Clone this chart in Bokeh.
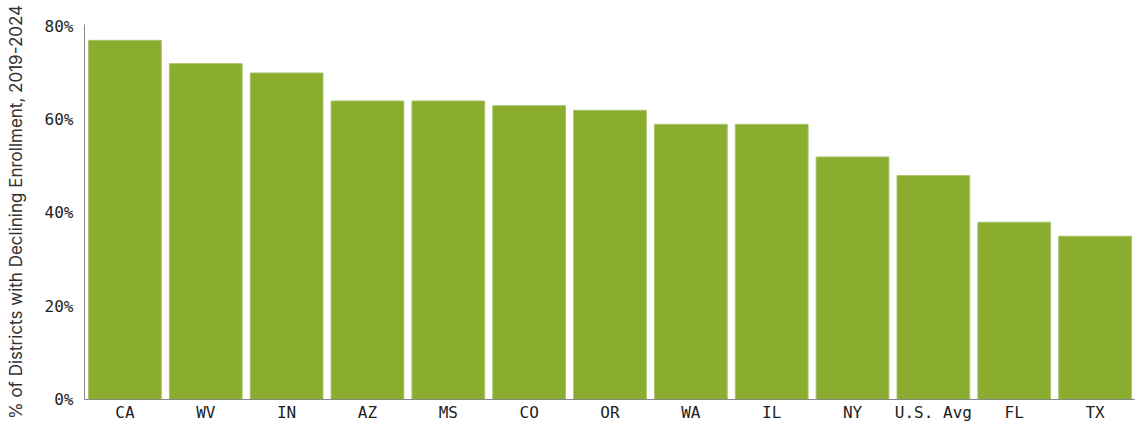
from bokeh.plotting import figure
from bokeh.models import Range1d, PrintfTickFormatter, ColumnDataSource
from bokeh.embed import file_html
from bokeh.resources import INLINE

states = ["CA", "WV", "IN", "AZ", "MS", "CO", "OR", "WA", "IL", "NY", "U.S. Avg", "FL", "TX"]
pct_declining = [77, 72, 70, 64, 64, 63, 62, 59, 59, 52, 48, 38, 35]
y_ticks = [0, 20, 40, 60, 80]

source = ColumnDataSource(dict(state=states, pct=pct_declining))

p = figure(x_range=states, width=1135, height=427, output_backend="svg",
           toolbar_location=None, min_border_left=84, min_border_right=0,
           min_border_top=24, min_border_bottom=28, outline_line_color=None)
p.y_range = Range1d(0, 80.4)
p.x_range.range_padding = 0.0

p.vbar(x="state", top="pct", width=0.9, source=source,
       fill_color="#8AAC2F", line_color="#A8C46A", line_width=1)

p.grid.grid_line_color = None

p.yaxis.ticker = y_ticks
p.yaxis.formatter = PrintfTickFormatter(format="%d%%")
p.yaxis.axis_label = "% of Districts with Declining Enrollment, 2019-2024"
p.yaxis.axis_label_text_font = "Inter"
p.yaxis.axis_label_text_font_size = "17px"
p.yaxis.axis_label_text_font_style = "normal"
p.yaxis.axis_label_text_color = "#333333"
p.yaxis.axis_label_standoff = 16

for ax in (p.xaxis[0], p.yaxis[0]):
    ax.major_label_text_font = "DejaVu Sans Mono"
    ax.major_label_text_font_size = "16px"
    ax.major_label_text_color = "#222222"
    ax.axis_line_color = "#888888"
    ax.axis_line_width = 1
    ax.major_tick_line_color = None
    ax.minor_tick_line_color = None
    ax.major_tick_out = 0
    ax.minor_tick_out = 0

p.yaxis.major_label_standoff = 11
p.xaxis.major_label_standoff = 3

open("out.html", "w").write(file_html(p, INLINE))
